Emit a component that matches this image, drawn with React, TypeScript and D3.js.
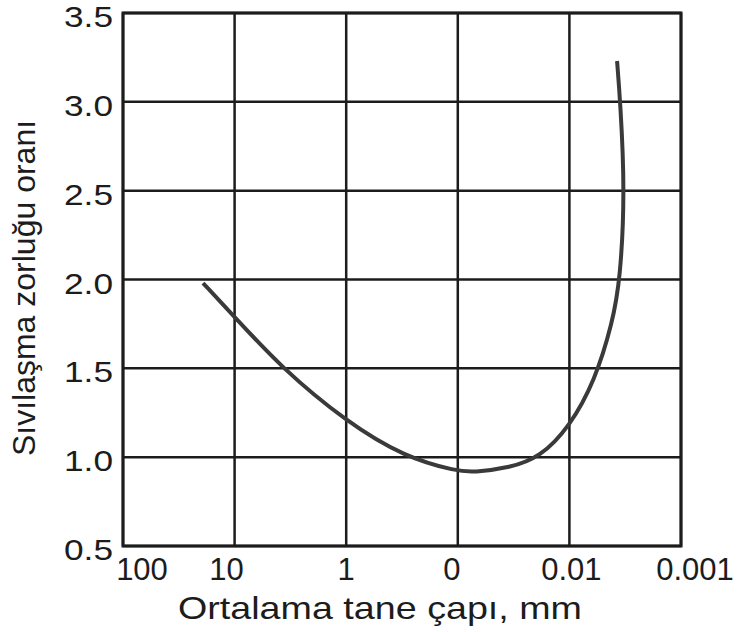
import React, { useEffect, useRef } from "react";
import * as d3 from "d3";

// grain size (mm) on a reversed log axis, the "0" label stands at 0.1
const xTickValues = [100, 10, 1, 0.1, 0.01, 0.001];
const xTickLabels = ["100", "10", "1", "0", "0.01", "0.001"];
const yTickValues = [0.5, 1.0, 1.5, 2.0, 2.5, 3.0, 3.5];

// curve, in drawing order
const diameter = [
  19.2, 10, 3.76, 1, 0.3, 0.1, 0.073, 0.034, 0.0183, 0.01, 0.0059, 0.0041,
  0.0035, 0.00318, 0.0035, 0.00374,
];
const ratio = [
  1.98, 1.79, 1.5, 1.2, 1.0, 0.92, 0.915, 0.94, 1.0, 1.17, 1.43, 1.76, 2.0,
  2.5, 3.0, 3.23,
];

const xTitle = "Ortalama tane çapı, mm";
const yTitle = "Sıvılaşma zorluğu oranı";

export default function App() {
  const ref = useRef<SVGSVGElement | null>(null);

  useEffect(() => {
    const svg = d3.select(ref.current);
    svg.selectAll("*").remove();

    const width = 748,
      height = 632;
    const plot = { left: 123, right: 681, top: 13, bottom: 546 };
    const ink = "#1c1c1c";
    const font = "'Liberation Sans', Arial, sans-serif";

    svg.append("rect").attr("width", width).attr("height", height).attr("fill", "#fff");

    const x = d3.scaleLog().domain([100, 0.001]).range([plot.left, plot.right]);
    const y = d3.scaleLinear().domain([0.5, 3.5]).range([plot.bottom, plot.top]);

    const grid = svg.append("g").attr("stroke", ink).attr("stroke-width", 2.5);

    grid
      .selectAll(".vline")
      .data(xTickValues)
      .enter()
      .append("line")
      .attr("class", "vline")
      .attr("x1", (d) => x(d))
      .attr("x2", (d) => x(d))
      .attr("y1", plot.top)
      .attr("y2", plot.bottom);

    grid
      .selectAll(".hline")
      .data(yTickValues)
      .enter()
      .append("line")
      .attr("class", "hline")
      .attr("x1", plot.left)
      .attr("x2", plot.right)
      .attr("y1", (d) => y(d))
      .attr("y2", (d) => y(d));

    grid
      .append("rect")
      .attr("x", plot.left)
      .attr("y", plot.top)
      .attr("width", plot.right - plot.left)
      .attr("height", plot.bottom - plot.top)
      .attr("fill", "none")
      .attr("stroke-width", 3);

    // tick labels (the scan is a little stretched sideways)
    const xShift = [19, -8, 0, -6, 2, 14];
    svg
      .append("g")
      .selectAll("text")
      .data(xTickValues)
      .enter()
      .append("text")
      .attr("x", (d, i) => x(d) + xShift[i])
      .attr("y", 580)
      .attr("text-anchor", "middle")
      .attr("font-family", font)
      .attr("font-size", 31)
      .attr("fill", ink)
      .text((d, i) => xTickLabels[i]);

    svg
      .append("g")
      .selectAll("text")
      .data(yTickValues)
      .enter()
      .append("text")
      .attr("x", 113)
      .attr("y", (d) => y(d) + 14)
      .attr("text-anchor", "end")
      .attr("font-family", font)
      .attr("font-size", 30)
      .attr("textLength", 49)
      .attr("lengthAdjust", "spacingAndGlyphs")
      .attr("fill", ink)
      .text((d) => d.toFixed(1));

    // axis titles
    svg
      .append("text")
      .attr("x", 380)
      .attr("y", 619)
      .attr("text-anchor", "middle")
      .attr("font-family", font)
      .attr("font-size", 32)
      .attr("textLength", 404)
      .attr("lengthAdjust", "spacingAndGlyphs")
      .attr("fill", ink)
      .text(xTitle);

    svg
      .append("text")
      .attr("transform", "translate(35,288) rotate(-90)")
      .attr("text-anchor", "middle")
      .attr("font-family", font)
      .attr("font-size", 32)
      .attr("fill", ink)
      .text(yTitle);

    const points: [number, number][] = diameter.map((d, i) => [d, ratio[i]]);
    const line = d3
      .line<[number, number]>()
      .x((d) => x(d[0]))
      .y((d) => y(d[1]))
      .curve(d3.curveBasis);

    svg
      .append("path")
      .datum(points)
      .attr("d", line)
      .attr("fill", "none")
      .attr("stroke", "#3a3a3a")
      .attr("stroke-width", 4)
      .attr("stroke-linecap", "butt");
  }, []);

  return (
    <svg
      ref={ref}
      width={748}
      height={632}
      style={{ position: "absolute", left: 0, top: 0, display: "block" }}
    />
  );
}
